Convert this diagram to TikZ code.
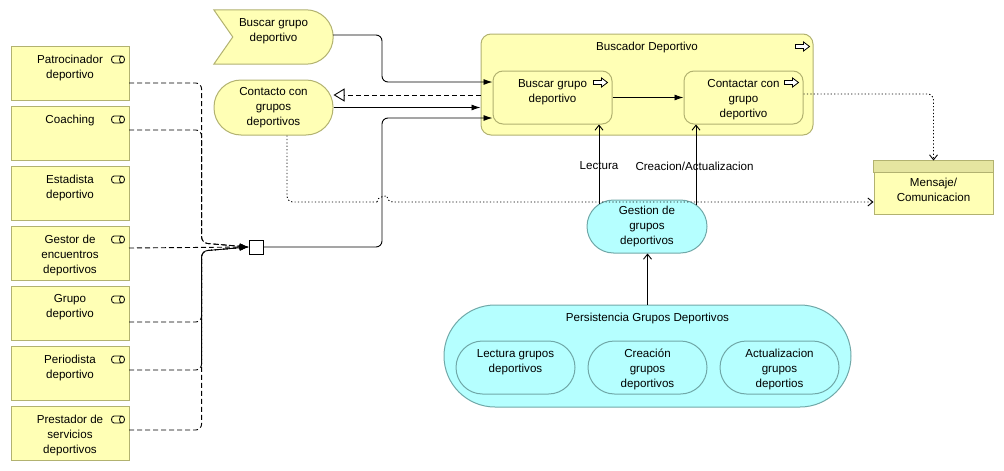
\documentclass[tikz,border=0pt]{standalone}
\usepackage{fontspec}
\setmainfont{Liberation Sans}
\usetikzlibrary{positioning,arrows.meta}
\definecolor{bizfill}{RGB}{255,255,181}
\definecolor{bizline}{RGB}{178,178,112}
\definecolor{appfill}{RGB}{181,255,255}
\definecolor{appline}{RGB}{112,168,168}
\definecolor{datahead}{RGB}{229,229,160}

\begin{document}
\begin{tikzpicture}[x=1pt,y=-1pt,
font=\fontsize{11.6}{15}\selectfont,
every node/.style={align=center},
role/.style={draw=bizline,fill=bizfill,line width=1pt,minimum width=118pt,minimum height=54pt,inner sep=0pt,outer sep=0pt},
bizproc/.style={draw=bizline,fill=bizfill,line width=1pt,rounded corners=10pt,inner sep=0pt},
bizsvc/.style={draw=bizline,fill=bizfill,line width=1pt,rounded corners=27pt,minimum width=119pt,minimum height=55pt,inner sep=0pt},
appsvc/.style={draw=appline,fill=appfill,line width=1pt,inner sep=0pt},
appsub/.style={appsvc,rounded corners=26.5pt,minimum width=119pt,minimum height=53pt},
toplabel/.style={label={[anchor=north,align=center,inner sep=0pt,yshift=-8.5pt]north:#1}},
junct/.style={draw,fill=white,line width=0.8pt,minimum size=14pt,inner sep=0pt},
trig/.style={draw,line width=0.9pt,rounded corners=6pt,-{Latex[length=9pt,width=6pt]}},
roleln/.style={draw,line width=0.9pt,rounded corners=6pt,dash pattern=on 5pt off 3pt,-{Latex[length=9pt,width=6pt]}},
real/.style={draw,line width=0.9pt,dash pattern=on 5pt off 3pt,-{Triangle[open,length=11pt,width=13pt]}},
acc/.style={draw,line width=0.9pt,-{Straight Barb[length=5pt,width=8pt]}},
flowln/.style={draw,line width=0.9pt,rounded corners=6pt,dash pattern=on 1.2pt off 2.2pt},
lbl/.style={inner sep=0pt},
roleicon/.pic={\draw[line width=0.8pt] (-4,-3.5) -- (4,-3.5) (-4,3.5) -- (4,3.5) (4,0) ellipse [x radius=2.5pt,y radius=3.5pt];
  \draw[line width=0.8pt] (-4,-3.5) .. controls (-7.3,-3.5) and (-7.3,3.5) .. (-4,3.5);},
procicon/.pic={\draw[line width=0.8pt,fill=white] (-7,-2) -- (1,-2) -- (1,-4.5) -- (7,0) -- (1,4.5) -- (1,2) -- (-7,2) -- cycle;}]
\useasboundingbox (0,0) rectangle (1004,471);

\node (patr) [role,toplabel={Patrocinador\\deportivo}] at (70,73) {};
\node (coach) [role,toplabel={Coaching},below=6pt of patr] {};
\node (estad) [role,toplabel={Estadista\\deportivo},below=6pt of coach] {};
\node (gestor) [role,toplabel={Gestor de\\encuentros\\deportivos},below=6pt of estad] {};
\node (grupo) [role,toplabel={Grupo\\deportivo},below=6pt of gestor] {};
\node (period) [role,toplabel={Periodista\\deportivo},below=6pt of grupo] {};
\node (prest) [role,toplabel={Prestador de\\servicios\\deportivos},below=6pt of period] {};
\foreach \r in {patr,coach,estad,gestor,grupo,period,prest}
  \pic at ([xshift=-11pt,yshift=-13.5pt]\r.north east) {roleicon};

\node (evt) [minimum width=119pt,minimum height=54pt,inner sep=0pt] at (273.5,37) {};
\filldraw[draw=bizline,fill=bizfill,line width=1pt] (evt.north west) -- ([xshift=-27pt]evt.north east)
  .. controls ([xshift=-12.1pt]evt.north east) and ([yshift=14.9pt]evt.east) .. (evt.east)
  .. controls ([yshift=-14.9pt]evt.east) and ([xshift=-12.1pt]evt.south east) .. ([xshift=-27pt]evt.south east)
  -- (evt.south west) -- ([xshift=19pt]evt.west) -- cycle;
\node (evttext) [anchor=north,inner sep=0pt,yshift=-8.5pt] at (evt.north) {Buscar grupo\\deportivo};

\node (ctg) [bizsvc] at (273.5,107.5) {Contacto con\\grupos\\deportivos};

\node (bsc) [bizproc,minimum width=332pt,minimum height=101pt,toplabel={Buscador Deportivo}] at (647,84.5) {};
\node (bgd) [bizproc,minimum width=119pt,minimum height=53pt,toplabel={Buscar grupo\\deportivo}] at (552.5,97.5) {};
\node (cgd) [bizproc,minimum width=119pt,minimum height=53pt,toplabel={Contactar con\\grupo\\deportivo}] at (743.5,97.5) {};
\pic at ([xshift=-11pt,yshift=-13pt]bsc.north east) {procicon};
\pic at ([xshift=-12pt,yshift=-12pt]bgd.north east) {procicon};
\pic at ([xshift=-12pt,yshift=-12pt]cgd.north east) {procicon};

\node (msg) [draw=bizline,fill=bizfill,line width=1pt,minimum width=119pt,minimum height=53pt,inner sep=0pt] at (933.5,187.5) {};
\filldraw[draw=bizline,fill=datahead,line width=1pt] (msg.north west) rectangle ([yshift=-12pt]msg.north east);
\node (msgtext) [inner sep=0pt] at ([yshift=-2pt]msg.center) {Mensaje/\\Comunicacion};

\node (ggd) [appsvc,rounded corners=26.5pt,minimum width=120pt,minimum height=53pt] at (647,226.5) {Gestion de\\grupos\\deportivos};

\node (pgd) [appsvc,rounded corners=51pt,minimum width=407pt,minimum height=102pt,toplabel={Persistencia Grupos Deportivos}] at (647.5,356) {};
\node (cre) [appsub,toplabel={Creación\\grupos\\deportivos}] at ([yshift=-11.5pt]pgd.center) {};
\node (lgd) [appsub,toplabel={Lectura grupos\\deportivos},left=12pt of cre] {};
\node (act) [appsub,toplabel={Actualizacion\\grupos\\deportios},right=12pt of cre] {};

\node (jn) [junct] at (256,247) {};

\draw[roleln] ([yshift=-10pt]patr.east) -| ([xshift=-47pt,yshift=4pt]jn.west) -- (jn.west);
\draw[roleln] ([yshift=3pt]coach.east) -| ([xshift=-47pt,yshift=4pt]jn.west) -- (jn.west);
\draw[roleln] ([yshift=5pt]gestor.east) -- (jn.west);
\draw[roleln] ([yshift=-9pt]grupo.east) -| ([xshift=-47pt,yshift=-4pt]jn.west) -- (jn.west);
\draw[roleln] ([yshift=3pt]period.east) -| ([xshift=-47pt,yshift=-4pt]jn.west) -- (jn.west);
\draw[roleln] ([yshift=3pt]prest.east) -| ([xshift=-47pt,yshift=-4pt]jn.west) -- (jn.west);

\draw[trig] (jn.east) -| (382,160) |- ([yshift=-20.5pt]bgd.west);
\draw[trig] ([yshift=2pt]evt.east) -| (382,60) |- ([yshift=15.5pt]bgd.west);
\draw[real] ([yshift=-10.5pt]bsc.west) -- ([yshift=-10.5pt]bsc.west -| ctg.east);
\draw[trig] (ctg.east) -- (ctg.east -| bsc.west);
\draw[trig] (bgd.east) -- (cgd.west);

\draw[acc] ([xshift=-48pt,yshift=-4pt]ggd.north) -- ([xshift=-48pt]ggd.north |- bgd.south)
  node[lbl,pos=0.477] {Lectura};
\draw[acc] ([xshift=49pt,yshift=-5pt]ggd.north) -- ([xshift=49pt]ggd.north |- cgd.south)
  node[lbl,pos=0.48,xshift=-1.5pt] {Creacion/Actualizacion};
\draw[acc] (pgd.north) -- (pgd.north |- ggd.south);

\draw[flowln,-{Straight Barb[length=5pt,width=8pt]}] ([yshift=3.5pt]cgd.east) -| (msg.north);
\draw[flowln] ([xshift=13.5pt]ctg.south) |- (377,202);
\draw[flowln,-{Straight Barb[length=5pt,width=8pt]}] (377,202) .. controls (377,196) and (387,196) .. (387,202)
  -- ([yshift=-14.5pt]msg.west);
\end{tikzpicture}
\end{document}
